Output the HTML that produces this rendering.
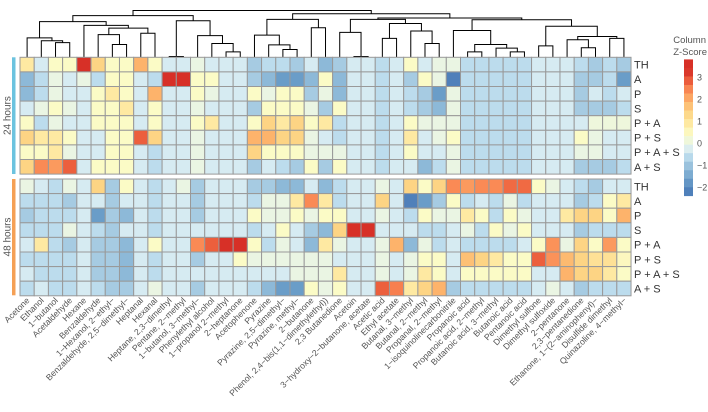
<!DOCTYPE html>
<html><head><meta charset="utf-8"><style>
html,body{margin:0;padding:0;background:#fff;}
svg{display:block;font-family:"Liberation Sans",sans-serif;}
</style></head><body>
<svg id="chart" width="708" height="412" viewBox="0 0 708 412" xmlns="http://www.w3.org/2000/svg">
<g id="dendro"></g>
<g id="cells"></g>
<g id="collabels"></g>
<g id="rowlabels"></g>
<rect x="12" y="57.3" width="3.5" height="116.7" fill="#6cc3df"/>
<rect x="12" y="179" width="3.5" height="116.3" fill="#f5a055"/>
<text transform="translate(8,115.6) rotate(-90)" text-anchor="middle" dominant-baseline="middle" font-size="10" fill="#555">24 hours</text>
<text transform="translate(8,237) rotate(-90)" text-anchor="middle" dominant-baseline="middle" font-size="10" fill="#555">48 hours</text>
<g id="legend">
<text x="706" y="43" text-anchor="end" font-size="9.5" fill="#555">Column</text>
<text x="707" y="55" text-anchor="end" font-size="9.5" fill="#555">Z-Score</text>
</g>
</svg>
<script>
const categories = ["Acetone","Ethanol","1\u2212butanol","Acetaldehyde","Hexane","Benzaldehyde","1\u2212Hexanol, 2\u2212ethyl\u2212","Benzaldehyde, 2,5\u2212dimethyl\u2212","Heptanal","Hexanal","Heptane, 2,3\u2212dimethyl","Pentane, 2\u2212methyl","1\u2212butanol, 3\u2212methyl\u2212","Phenylethyl alcohol","1\u2212propanol 2\u2212methyl","2\u2212heptanone","Acetophenone","Pyrazine","Pyrazine, 2,5\u2212dimethyl\u2212","Pyrazine, methyl\u2212","2\u2212butanone","Phenol, 2,4\u2212bis(1,1\u2212dimethylethyl))","2,3 Butanedione","Acetoin","3\u2212hydroxy\u22122\u2212butanone, acetate","Acetic acid","Ethyl acetate","Butanal, 3\u2212methyl","Butanal, 2\u2212methyl","Propanal, 2\u2212methyl","1\u2212isoquinolinecarbonitrile","Propanoic acid","Propanoic acid, 2\u2212methyl","Butanoic acid, 3\u2212methyl","Butanoic acid","Pentanoic acid","Dimethyl sulfone","Dimethyl sulfoxide","2\u2212pentanone","2,3\u2212pentanedione","Ethanone, 1\u2212(2\u2212aminophenyl)\u2212","Disulfide dimethyl","Quinazoline, 4\u2212methyl\u2212"];
const rowNames = ["TH","A","P","S","P + A","P + S","P + A + S","A + S"];
const legendTicks = [3,2,1,0,-1,-2];
const legendTickLabels = ["3","2","1","0","\u22121","\u22122"];

const h24_TH = [0.9,-0.35,0.4,0.4,3.3,1.4,0.4,0.4,1.9,0.4,-0.35,-0.35,0,-0.35,-0.35,-0.35,-0.9,-0.6,-0.6,-0.9,-0.35,-1.2,-0.9,-0.35,-0.35,-0.6,-0.35,0.4,-0.35,0,0,-0.6,-0.6,-0.6,-0.6,-0.6,-0.35,-0.35,-0.35,-0.6,-0.9,-0.6,-0.9];
const h24_A = [-1.2,-0.6,0,-0.35,0,-0.6,0.4,0.4,-0.35,-0.6,3.3,3.3,0.4,0.4,-0.35,-0.35,-0.9,-1.2,-1.7,-1.7,-1.2,0.4,-1.2,-0.35,-0.35,-0.6,-0.35,-0.9,0.4,0,-2.2,-0.6,-0.6,-0.6,-0.6,-0.6,-0.35,-0.35,-0.35,-0.9,-0.9,-0.6,-1.7];
const h24_P = [-1.2,-0.6,0,-0.35,-0.35,0.4,0.9,0.4,-0.35,1.9,-0.35,-0.35,0.4,0,-0.35,-0.35,0.4,0,0.4,0.4,-0.9,0,-1.2,-0.35,-0.35,-0.6,-0.35,-0.6,-0.9,-1.7,0,-0.6,-0.6,-0.6,-0.6,-0.6,-0.35,-0.35,-0.35,-0.9,-0.35,-0.6,-0.35];
const h24_S = [-0.35,0,0.4,0,-0.35,0.4,0.4,0.9,-0.35,0.4,-0.35,-0.35,0,-0.35,-0.35,-0.35,-0.9,0.4,0.4,0.4,0,-0.9,0.4,-0.35,-0.35,-0.6,-0.35,-0.6,-0.9,-1.2,0,-0.6,-0.6,-0.6,-0.6,-0.6,-0.35,-0.35,-0.35,-0.9,-0.9,-0.9,-0.6];
const h24_PA = [0.4,-0.6,0,-0.35,-0.35,0.4,0.4,0.4,-0.35,0.4,-0.35,-0.35,0.4,0.9,-0.35,-0.35,0.4,1.4,0.9,1.4,0.4,0.9,-0.6,-0.35,-0.35,-0.6,-0.35,0.4,0,0,0,-0.6,-0.6,-0.6,-0.6,-0.6,-0.35,-0.35,-0.35,-0.35,0.1,0.1,0.1];
const h24_PS = [1.4,0.9,0.9,0.4,-0.35,-0.35,0.4,0.4,2.8,1.4,-0.35,-0.35,0,-0.35,-0.35,-0.35,1.9,1.9,1.4,1.4,0,-0.35,-0.6,-0.35,-0.35,-0.6,-0.35,0.9,-0.35,0,0.4,-0.6,-0.6,-0.6,-0.6,-0.6,-0.35,-0.35,-0.35,0.4,0,-0.35,-0.35];
const h24_PAS = [0.4,0.4,0.9,0,-0.35,-0.35,0.4,0.4,-0.35,-0.6,-0.35,-0.35,0,-0.35,-0.35,-0.35,1.4,0.4,0.4,0.4,0,0,0,-0.35,-0.35,-0.6,-0.35,0.4,-0.35,-0.35,0,-0.6,-0.6,-0.6,-0.6,-0.6,-0.35,-0.35,-0.35,0,0,-0.35,-0.35];
const h24_AS = [1.4,2.4,2.2,2.8,-0.35,0.4,0.4,0.4,-0.35,-0.6,-0.35,-0.35,0,-0.35,-0.35,-0.35,-0.9,-0.35,-0.6,-0.9,0.4,-0.9,0.4,-0.35,-0.35,-0.6,-0.35,-0.35,-1.2,-0.6,0,-0.6,-0.6,-0.6,-0.6,-0.6,-0.35,-0.35,-0.35,-0.9,-0.9,-0.9,-0.6];

const h48_TH = [0,-0.35,-0.6,0,-0.35,1.4,-0.9,0.4,-0.35,-0.6,-0.35,0,-0.9,-0.35,-0.35,-0.35,-0.9,-0.9,-1.2,-1.2,-0.35,-1.2,-0.6,-0.35,-0.35,0,-0.35,1.4,0.4,1.4,2.4,2.2,2.4,2.4,2.7,2.7,0.4,0,-0.35,-0.6,-0.9,-0.35,-0.35];
const h48_A = [-0.6,-0.6,-0.6,-0.9,-0.35,-0.35,-0.9,-0.35,-0.35,-0.6,-0.35,-0.35,-0.9,-0.35,-0.35,-0.35,-0.6,0,0,0.9,2.4,0.9,-0.6,-0.35,-0.35,1.4,-0.35,-2.2,-1.7,-0.9,0.4,-0.6,-0.35,-0.6,0,-0.6,-0.35,-0.35,-0.35,-0.9,-0.6,0.4,0.9];
const h48_P = [-0.9,-0.6,-0.6,-0.6,-0.35,-1.7,-0.9,-1.2,-0.35,-0.6,-0.35,-0.35,-0.9,-0.35,-0.35,-0.35,0.4,0,0,0.4,0,0.4,0.4,-0.35,-0.35,0,-0.35,-0.6,0.4,0,0,0.9,0.4,-0.6,0.4,0,-0.35,-0.35,0.9,1.4,1.4,0.4,1.9];
const h48_S = [-0.6,-0.6,-0.6,0,-0.35,-0.6,-0.9,-0.35,-0.35,-0.6,-0.35,-0.35,-0.35,-0.35,-0.35,-0.35,-0.6,-0.35,0.4,-0.35,-0.9,-1.2,1.4,3.3,3.3,-0.35,-0.35,-0.35,-0.6,-0.6,-0.35,0,-0.6,0.4,0,0.4,-0.35,-0.35,-0.35,-0.9,-0.6,-0.6,-0.6];
const h48_PA = [-0.35,0.9,-0.6,-0.9,-0.35,-0.9,-0.9,-1.2,-0.35,0.4,-0.35,-0.35,2.4,2.8,3.3,3.3,0.4,-0.6,0,-0.35,-1.2,0.9,0,-0.35,-0.35,0,1.9,-1.2,0,-0.6,-0.35,-0.6,-0.6,-0.6,-0.6,-0.35,0.4,2.3,0,1.4,0.4,2.2,0.4];
const h48_PS = [-0.6,-0.6,-0.6,-0.6,-0.35,-0.9,-0.9,-1.2,-0.35,-0.6,-0.35,-0.35,-0.9,-0.35,-0.35,0.4,0,0,0,0,0,0,-0.35,-0.35,-0.35,0,-0.35,0,0.4,0.4,-0.35,1.7,1.4,0.9,0.4,0.4,2.8,2.3,1.8,1.4,1.1,1.1,0.5];
const h48_PAS = [-0.35,-0.6,-0.6,-0.6,-0.35,-0.9,-0.9,-1.2,-0.35,-0.6,-0.35,-0.35,-0.35,-0.35,-0.35,-0.35,-0.35,-0.35,-0.35,0,0,0,0.9,-0.35,-0.35,0,-0.35,0,0.9,0.4,-0.35,0.4,0.4,0.4,0.4,0.4,-0.35,-0.35,1.9,1.4,1.4,0.9,0.4];
const h48_AS = [-0.6,-0.35,-0.6,-0.6,-0.35,-0.6,-0.9,-0.9,-0.35,0,-0.35,-0.35,-0.9,-0.35,-0.35,-0.35,-0.6,-1.2,-1.7,-1.7,0.4,0,0.4,-0.35,-0.35,2.8,2.5,0.9,1.4,1.9,-0.9,-0.6,-0.6,-0.6,-0.6,-0.6,-0.35,0,-0.35,-0.9,-0.6,-0.6,-0.6];

const block24 = [h24_TH,h24_A,h24_P,h24_S,h24_PA,h24_PS,h24_PAS,h24_AS];
const block48 = [h48_TH,h48_A,h48_P,h48_S,h48_PA,h48_PS,h48_PAS,h48_AS];

// dendrogram merges: [left, right, height (0 = leaves, 1 = root)]
const dendroTree = [[[[0,[1,[2,3,0.31],0.35],0.41],[4,[[5,[6,7,0.27],0.48],[8,9,0.51],0.62],0.68],0.76],[[10,11,0.01],[12,[13,[14,15,0.11],0.29],0.46],0.78],0.89],[[[16,[17,[18,19,0.16],0.26],0.47],[20,21,0.63],0.81],[[[22,[23,24,0.01],0.53],[[25,26,0.40],[27,[28,29,0.29],0.56],0.72],0.81],[[30,[[31,32,0.11],[33,[34,35,0.11],0.19],0.27],0.57],[[36,37,0.24],[[38,[39,40,0.20],0.37],[41,42,0.40],0.44],0.66],0.80],0.84],0.93],1];

const NS="http://www.w3.org/2000/svg";
const X0=20, CW=14.21, NC=categories.length;
const RH=14.6, TOP1=57.3, TOP2=179;
const xCenter = i => X0 + CW*(i+0.5);
const dendY = h => 57 - h*46.5;

const stops=[[-2.4,"#4575b4"],[-1.7,"#6a9dc8"],[-1.2,"#8db9d8"],[-0.9,"#a6cbe2"],[-0.6,"#bcdced"],[-0.35,"#d6ebf2"],[0,"#eaf5e3"],[0.4,"#fbfbc6"],[0.9,"#fee9a2"],[1.4,"#fdd484"],[1.9,"#fdb36b"],[2.4,"#fa8a55"],[2.8,"#ec5f3d"],[3.3,"#d73027"]];
function hex(c){return [1,3,5].map(k=>parseInt(c.substr(k,2),16));}
function color(v){
  if(v<=stops[0][0])return stops[0][1];
  if(v>=stops[stops.length-1][0])return stops[stops.length-1][1];
  for(let k=0;k<stops.length-1;k++){
    const a=stops[k],b=stops[k+1];
    if(v>=a[0]&&v<=b[0]){const t=(v-a[0])/(b[0]-a[0]);const ca=hex(a[1]),cb=hex(b[1]);
      return "rgb("+ca.map((x,j)=>Math.round(x+(cb[j]-x)*t)).join(",")+")";}
  }
}
function mk(tag,attrs,parent){const e=document.createElementNS(NS,tag);for(const k in attrs)e.setAttribute(k,attrs[k]);parent.appendChild(e);return e;}

// cells
const cellsG=document.getElementById("cells");
[[block24,TOP1,"24h"],[block48,TOP2,"48h"]].forEach(([blk,top,tag])=>{
  blk.forEach((row,r)=>{
    row.forEach((v,c)=>{
      const rc=mk("rect",{x:X0+CW*c,y:top+RH*r,width:CW,height:RH,fill:color(v),stroke:"#999","stroke-width":1},cellsG);
      
      
    });
  });
});

// row labels
const rl=document.getElementById("rowlabels");
[TOP1,TOP2].forEach((top,bi)=>{
  rowNames.forEach((n,r)=>{
    const t=mk("text",{x:634,y:top+RH*r+RH/2+4,"font-size":11,fill:"#333"},rl);
    t.textContent=n;
    
    
  });
});

// column labels
const cl=document.getElementById("collabels");
categories.forEach((n,i)=>{
  const t=mk("text",{transform:"translate("+(xCenter(i)+3)+",301) rotate(-45)","text-anchor":"end","font-size":8.6,fill:"#555"},cl);
  t.textContent=n;
  
  
});

// dendrogram
const dg=document.getElementById("dendro");
function draw(node){
  if(typeof node==="number")return {x:xCenter(node),y:57};
  const a=draw(node[0]),b=draw(node[1]),y=dendY(node[2]);
  const p=mk("path",{d:"M"+a.x+","+a.y+"V"+y+"H"+b.x+"V"+b.y,fill:"none",stroke:"#000","stroke-width":1},dg);
  
  
  return {x:(a.x+b.x)/2,y:y};
}
draw(dendroTree);

// legend
const lg=document.getElementById("legend");
const LY=143, LS=22, vTop=3.8, vBot=-2.4, nS=16;
const ly=v=>LY-LS*v;
for(let k=0;k<nS;k++){
  const v1=vTop-(vTop-vBot)*k/nS, v2=vTop-(vTop-vBot)*(k+1)/nS;
  const r=mk("rect",{x:684,y:ly(v1),width:9,height:ly(v2)-ly(v1)+0.3,fill:color((v1+v2)/2)},lg);
  
  
}
legendTicks.forEach((v,k)=>{
  const t=mk("text",{x:697,y:ly(v)+3.5,"font-size":9,fill:"#555"},lg);
  t.textContent=legendTickLabels[k];
  
  
});
</script>
</body></html>
